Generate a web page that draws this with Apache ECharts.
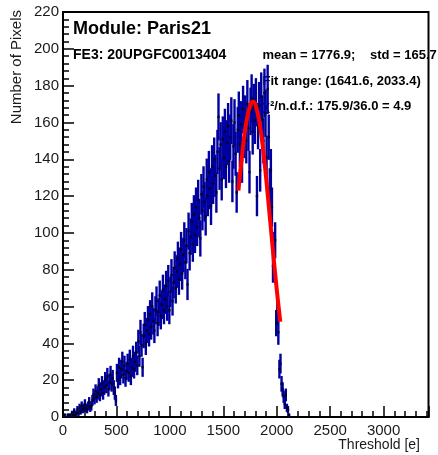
<!DOCTYPE html>
<html><head><meta charset="utf-8">
<script src="https://cdn.jsdelivr.net/npm/echarts@6/dist/echarts.min.js"></script>
<style>html,body{margin:0;padding:0;background:#fff}#c{width:438px;height:455px}</style>
</head><body><div id="c"></div>
<script>
// Histogram binning (bin width in electrons)
const binStart = 0;
const binWidth = 10;
// Number of pixels per threshold bin, 10 bins per row
const counts = [
 0,1,0,0,1,0,1,0,2,1,
 3,1,2,4,2,5,3,6,4,5,
 7,5,4,6,8,5,6,9,12,10,
 14,11,13,17,12,15,18,13,16,20,
 17,22,15,19,23,18,21,16,13,9,
 24,20,27,22,26,30,23,28,21,25,
 29,24,31,22,27,33,26,30,35,28,
 41,33,46,39,27,44,50,40,47,53,
 45,56,49,60,52,47,58,63,51,57,
 66,55,61,69,58,64,71,60,74,58,
 68,77,63,73,81,70,79,86,75,83,
 91,78,88,96,84,93,72,101,89,98,
 106,94,110,99,114,103,118,108,97,121,
 112,125,117,109,129,120,133,124,115,136,
 127,140,131,122,144,163,135,148,129,151,
 141,155,136,149,158,139,152,161,128,147,
 160,143,122,156,164,148,159,139,167,153,
 162,150,170,157,133,166,173,155,168,161,
 171,120,158,169,134,174,162,150,176,165,
 141,178,152,124,134,114,82,91,96,51,
 57,46,26,29,18,15,11,7,12,5,
 4,1
];
// Gaussian fit curve
const fitX = [1641.6,1680,1720,1760,1780,1800,1840,1880,1920,1960,2000,2033.4];
const fitY = [123,144.5,161.7,170.6,171.3,169.8,159.5,141.3,118.1,93.1,69.3,51.8];
// Axis ticks
const xTicks = [0,500,1000,1500,2000,2500,3000];
const yTicks = [0,20,40,60,80,100,120,140,160,180,200,220];
// Text
const title = "Module: Paris21";
const fe = "FE3: 20UPGFC0013404";
const meanTxt = "mean = 1776.9;";
const stdTxt = "std = 165.7";
const rangeTxt = "Fit range: (1641.6, 2033.4)";
const chiTxt = "\u03c7\u00b2/n.d.f.: 175.9/36.0 = 4.9";

const pts = [];
counts.forEach((v,i)=>{ if(v>0) pts.push([binStart + binWidth*(i+0.5), v, Math.sqrt(v)]); });
const fit = fitX.map((x,i)=>[x,fitY[i]]);

const FONT = "Liberation Sans, Arial, sans-serif";
const chart = echarts.init(document.getElementById('c'), null, {renderer:'canvas'});
chart.setOption({
  animation:false,
  backgroundColor:'#fff',
  grid:{left:63, right:9.5, top:12, bottom:38, show:true, borderColor:'#000', borderWidth:2, backgroundColor:'transparent'},
  xAxis:{type:'value', min:0, max:3420, interval:500,
    axisLine:{lineStyle:{color:'#000', width:2}},
    axisTick:{inside:true, length:11, lineStyle:{color:'#000', width:1.5}},
    minorTick:{show:true, splitNumber:5, length:6, lineStyle:{color:'#000', width:1.5}},
    axisLabel:{color:'#1a1a1a', fontSize:15, fontFamily:FONT, margin:6,
      formatter:v=> xTicks.includes(v)? String(v):''},
    splitLine:{show:false}},
  yAxis:{type:'value', min:0, max:220, interval:20,
    axisLine:{show:true, lineStyle:{color:'#000', width:2}},
    axisTick:{show:true, inside:true, length:11, lineStyle:{color:'#000', width:1.5}},
    minorTick:{show:true, splitNumber:5, length:6, lineStyle:{color:'#000', width:1.5}},
    axisLabel:{color:'#1a1a1a', fontSize:15, fontFamily:FONT, margin:4,
      formatter:v=> yTicks.includes(v)? String(v):''},
    splitLine:{show:false}},
  series:[
    {type:'custom', data:pts, clip:true, z:2,
     renderItem:(params, api)=>{
       const x=api.value(0), y=api.value(1), e=api.value(2);
       const a=api.coord([x,y-e]), b=api.coord([x,y+e]);
       return {type:'line', shape:{x1:a[0],y1:a[1],x2:b[0],y2:b[1]},
         style:{stroke:'#0000a0', lineWidth:2.4}};
     }},
    {type:'scatter', data:pts.map(p=>[p[0],p[1]]), symbol:'rect', symbolSize:2.4,
     itemStyle:{color:'#000'}, z:3, silent:true},
    {type:'line', data:fit, smooth:true, symbol:'none', z:4,
     lineStyle:{color:'#ff0000', width:4}}
  ],
  graphic:[
    {type:'text', x:73, y:29, style:{text:title, font:'bold 18px '+FONT, fill:'#000', textVerticalAlign:'middle'}},
    {type:'text', x:73, y:55, style:{text:fe, font:'bold 14px '+FONT, fill:'#000', textVerticalAlign:'middle'}},
    {type:'text', x:262.5, y:55.5, style:{text:meanTxt, font:'bold 13px '+FONT, fill:'#000', textVerticalAlign:'middle'}},
    {type:'text', x:370, y:55.5, style:{text:stdTxt, font:'bold 13px '+FONT, fill:'#000', textVerticalAlign:'middle'}},
    {type:'text', x:262.5, y:81.5, style:{text:rangeTxt, font:'bold 13px '+FONT, fill:'#000', textVerticalAlign:'middle'}},
    {type:'text', x:262.5, y:106.5, style:{text:chiTxt, font:'bold 13px '+FONT, fill:'#000', textVerticalAlign:'middle'}},
    {type:'text', x:16.5, y:10, rotation:Math.PI/2, style:{text:'Number of Pixels', font:'15px '+FONT, fill:'#1a1a1a', textAlign:'right', textVerticalAlign:'middle'}},
    {type:'text', x:420, y:445, style:{text:'Threshold [e]', font:'14px '+FONT, fill:'#1a1a1a', textAlign:'right', textVerticalAlign:'middle'}}
  ]
});
</script></body></html>
